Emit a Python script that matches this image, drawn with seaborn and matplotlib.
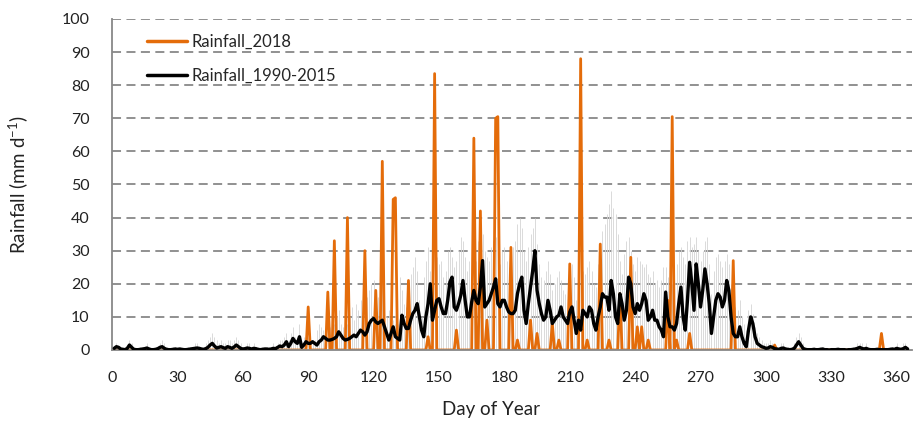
import numpy as np
import pandas as pd
import matplotlib
matplotlib.use("Agg")
import matplotlib.pyplot as plt
import seaborn as sns

# ---- data ----
days = np.arange(1, 366)

# 1990-2015 mean daily rainfall (mm/d), day 1..365
mean_1990_2015 = [
    0.5, 1.0, 0.8, 0.3, 0.2, 0.1, 0.5, 1.5, 0.8, 0.2,
    0.1, 0.1, 0.2, 0.3, 0.4, 0.6, 0.3, 0.1, 0.1, 0.2,
    0.4, 0.8, 1.0, 0.5, 0.2, 0.1, 0.1, 0.2, 0.3, 0.2,
    0.3, 0.2, 0.1, 0.1, 0.2, 0.3, 0.4, 0.5, 0.6, 0.5,
    0.3, 0.2, 0.4, 0.8, 1.5, 2.0, 1.2, 0.6, 0.8, 1.0,
    0.7, 0.5, 1.0, 0.8, 0.5, 0.9, 1.5, 1.0, 0.5, 0.3,
    0.4, 0.6, 0.5, 0.3, 0.5, 0.4, 0.2, 0.1, 0.2, 0.3,
    0.3, 0.2, 0.3, 0.5, 0.4, 0.8, 1.2, 1.0, 1.5, 2.5,
    1.0, 2.0, 3.5, 2.5, 2.0, 4.0, 0.8, 1.5, 2.5, 2.0,
    2.0, 2.5, 2.0, 1.5, 2.5, 3.0, 4.0, 3.5, 3.0, 3.0,
    3.2, 3.5, 4.0, 5.5, 4.5, 3.5, 3.0, 3.2, 3.5, 4.0,
    4.5, 4.0, 5.0, 6.0, 5.5, 4.5, 5.5, 8.0, 9.0, 9.5,
    8.5, 8.0, 8.5, 9.0, 7.0, 5.0, 3.0, 5.0, 7.0, 4.0,
    3.5, 3.0, 10.5, 8.0, 6.5, 6.5, 9.0, 11.0, 12.0, 14.0,
    10.0, 6.0, 4.0, 10.0, 14.0, 20.0, 9.0, 12.0, 15.0, 15.5,
    13.0, 11.0, 11.0, 15.0, 20.5, 22.0, 13.0, 12.0, 14.0, 16.5,
    21.0, 15.0, 10.0, 10.0, 14.5, 18.0, 15.0, 14.0, 19.0, 27.0,
    13.0, 14.0, 15.0, 17.0, 19.0, 21.5, 14.0, 13.0, 15.0, 15.0,
    13.0, 11.5, 11.0, 11.0, 12.0, 17.0, 20.0, 22.0, 12.0, 8.0,
    14.0, 19.0, 24.0, 30.0, 18.0, 14.0, 11.0, 9.0, 10.0, 15.0,
    12.0, 8.0, 9.0, 10.0, 10.5, 13.0, 10.0, 9.0, 8.0, 11.5,
    13.0, 9.0, 5.0, 9.0, 6.0, 12.0, 11.0, 10.0, 13.0, 12.0,
    8.0, 6.0, 10.0, 13.0, 17.0, 16.0, 16.0, 12.0, 21.0, 17.0,
    10.0, 8.0, 17.0, 14.0, 9.0, 12.0, 22.0, 20.0, 13.0, 11.0,
    14.0, 12.0, 14.0, 17.0, 15.0, 9.0, 10.0, 12.0, 9.0, 9.0,
    7.0, 6.0, 4.0, 17.5, 10.0, 7.0, 7.0, 6.0, 8.0, 14.0,
    19.0, 10.0, 6.0, 15.0, 26.5, 20.0, 12.0, 26.0, 20.0, 13.0,
    18.0, 24.5, 20.0, 14.0, 5.0, 10.0, 15.0, 17.0, 16.0, 13.0,
    15.0, 21.0, 18.0, 10.0, 5.0, 4.0, 4.0, 7.0, 4.0, 2.0,
    1.0, 6.0, 10.0, 8.0, 4.0, 2.0, 1.5, 1.0, 0.8, 0.5,
    0.6, 1.0, 0.8, 0.4, 0.3, 0.2, 0.5, 0.6, 0.3, 0.2,
    0.1, 0.2, 0.5, 1.5, 2.5, 1.5, 0.5, 0.2, 0.1, 0.1,
    0.1, 0.2, 0.1, 0.1, 0.2, 0.3, 0.1, 0.1, 0.0, 0.1,
    0.1, 0.1, 0.2, 0.1, 0.1, 0.1, 0.0, 0.1, 0.1, 0.2,
    0.3, 0.5, 0.8, 0.5, 0.3, 0.5, 0.2, 0.1, 0.1, 0.1,
    0.2, 0.1, 0.1, 0.1, 0.1, 0.1, 0.2, 0.3, 0.2, 0.5,
    0.3, 0.2, 0.4, 0.8, 0.3,
]

# thin grey spikes (upper range of the 1990-2015 daily values)
range_top = [
    1, 2, 1, 0, 0, 0, 1, 3, 2, 0,
    0, 0, 1, 1, 1, 2, 1, 0, 0, 1,
    1, 2, 3, 2, 1, 0, 0, 1, 1, 0,
    1, 0, 0, 0, 1, 1, 1, 2, 2, 1,
    1, 1, 2, 3, 4, 5, 4, 3, 2, 3,
    2, 2, 3, 3, 2, 3, 4, 3, 2, 1,
    1, 2, 2, 1, 2, 1, 1, 0, 1, 1,
    1, 1, 1, 2, 1, 2, 3, 3, 4, 5,
    3, 5, 7, 4, 3, 8, 2, 4, 6, 4,
    5, 3, 3, 6, 8, 7, 6, 5, 9, 7,
    6, 8, 10, 12, 8, 7, 9, 8, 10, 13,
    9, 14, 12, 15, 10, 13, 16, 18, 20, 21,
    17, 16, 19, 22, 15, 10, 12, 16, 9, 8,
    8, 22, 18, 14, 13, 19, 23, 25, 28, 24,
    15, 10, 22, 27, 31, 24, 26, 30, 28, 26,
    27, 22, 24, 30, 31, 28, 25, 27, 30, 34,
    33, 28, 24, 27, 31, 29, 27, 33, 31, 35,
    30, 28, 27, 31, 33, 34, 29, 26, 30, 31,
    27, 25, 26, 31, 33, 38, 40, 37, 30, 27,
    31, 35, 37, 40, 32, 26, 22, 21, 24, 27,
    23, 18, 20, 22, 24, 21, 18, 17, 21, 25,
    26, 22, 15, 19, 20, 24, 23, 25, 27, 24,
    20, 19, 26, 32, 36, 38, 41, 44, 48, 43,
    41, 35, 27, 23, 29, 33, 34, 30, 26, 24,
    28, 27, 26, 25, 26, 23, 22, 24, 20, 21,
    19, 21, 25, 25, 22, 18, 20, 22, 26, 30,
    31, 28, 26, 33, 34, 31, 32, 34, 30, 27,
    30, 33, 34, 26, 17, 24, 28, 29, 27, 25,
    27, 29, 26, 20, 15, 13, 12, 15, 10, 8,
    6, 12, 14, 11, 7, 5, 4, 3, 2, 2,
    2, 3, 2, 1, 1, 1, 2, 2, 1, 1,
    0, 1, 2, 4, 5, 4, 2, 1, 0, 0,
    0, 1, 0, 0, 1, 1, 0, 0, 0, 0,
    0, 0, 1, 0, 0, 0, 0, 0, 0, 1,
    1, 2, 2, 2, 1, 2, 1, 0, 0, 0,
    1, 0, 0, 0, 0, 0, 1, 1, 1, 2,
    1, 1, 2, 2, 1,
]

# 2018 rain days (all other days 0 mm)
rain2018_days = [90, 99, 102, 108, 116, 121, 124, 129, 130, 136, 145, 148, 158,
                 166, 169, 172, 176, 177, 183, 186, 192, 195, 202, 205, 210, 215,
                 218, 224, 228, 233, 238, 241, 243, 246, 255, 257, 259, 265, 285,
                 304, 353]
rain2018_mm = [13, 17.5, 33, 40, 30, 18, 57, 45.5, 46, 21, 4, 83.5, 6,
               64, 42, 9, 70, 70.5, 31, 3, 9, 5, 8, 3, 26, 88,
               3, 32, 3, 17, 28, 7, 7, 3, 15, 70.5, 3, 5, 27,
               1.5, 5]

rain2018 = pd.Series(0.0, index=days)
rain2018.loc[rain2018_days] = rain2018_mm

df = pd.DataFrame({"day": days, "r2018": rain2018.values,
                   "mean": mean_1990_2015, "top": range_top})

# ---- plot ----
sns.set_style("white")
plt.rcParams["font.family"] = ["Lato", "DejaVu Sans"]
plt.rcParams["mathtext.fontset"] = "custom"
plt.rcParams["mathtext.rm"] = "Lato"
plt.rcParams["mathtext.it"] = "Lato"

fig = plt.figure(figsize=(9.16, 4.25), dpi=100)
ax = fig.add_axes([0.1223, 0.1765, 0.8733, 0.7788])

grid_col = "#888888"
txt_col = "#222222"
for yv in range(10, 101, 10):
    ax.axhline(yv, color=grid_col, lw=1.3, ls=(0, (5, 3)), zorder=0)

ax.vlines(df["day"], 0, df["top"], color="#d4d4d4", lw=0.6, zorder=1)
sns.lineplot(data=df, x="day", y="r2018", color="#E46C0A", lw=2.0,
             label="Rainfall_2018", ax=ax, zorder=2)
sns.lineplot(data=df, x="day", y="mean", color="black", lw=2.4,
             label="Rainfall_1990-2015", ax=ax, zorder=3)

ax.set_xlim(0, 367)
ax.set_ylim(0, 100)
ax.set_xticks(range(0, 361, 30))
ax.set_yticks(range(0, 101, 10))
ax.tick_params(axis="both", direction="out", length=5, width=1.2,
               color=grid_col, labelsize=11.5, labelcolor=txt_col)
ax.tick_params(axis="y", pad=11)
ax.tick_params(axis="x", pad=10)

for s in ["top", "right"]:
    ax.spines[s].set_visible(False)
for s in ["left", "bottom"]:
    ax.spines[s].set_color(grid_col)
    ax.spines[s].set_linewidth(1.3)

ax.set_xlabel("Day of Year", fontsize=13.5, color=txt_col)
ax.set_ylabel("Rainfall (mm d$^{-1}$)", fontsize=13.5, color=txt_col)
ax.xaxis.set_label_coords(0.474, -0.155)
ax.yaxis.set_label_coords(-0.1025, 0.5)

leg = ax.legend(loc="upper left", bbox_to_anchor=(0.044, 0.954), frameon=False,
                fontsize=12, handlelength=2.4, handletextpad=0.25,
                labelspacing=1.05, borderpad=0, borderaxespad=0)
for line in leg.get_lines():
    line.set_linewidth(2.5)

fig.savefig("out.png", dpi=100)
